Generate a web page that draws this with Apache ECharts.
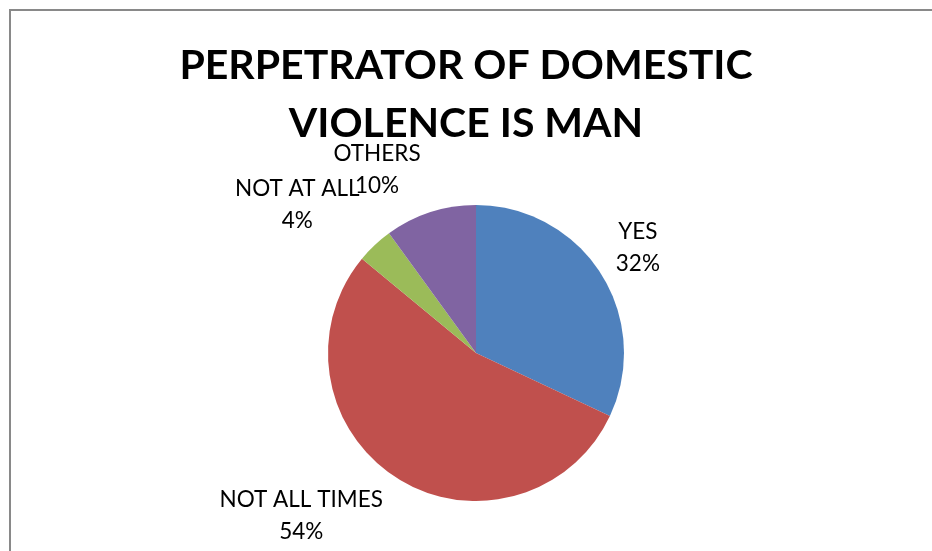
<!DOCTYPE html>
<html><head><meta charset="utf-8">
<script src="https://cdn.jsdelivr.net/npm/echarts@6/dist/echarts.min.js"></script>
<style>html,body{margin:0;padding:0;background:#fff}#c{width:932px;height:551px}</style>
</head><body><div id="c"></div>
<script>
const categories = ['YES', 'NOT ALL TIMES', 'NOT AT ALL', 'OTHERS'];
const values = [32, 54, 4, 10];
const colors = ['#4F81BD', '#C0504D', '#9BBB59', '#8064A2'];
const titleText = 'PERPETRATOR OF DOMESTIC\nVIOLENCE IS MAN';

const cx = 476, cy = 353, R = 148;
// label placement: angle (deg clockwise from top) and distance from centre
const labelPolar = [[57, 193], [227, 239], [309.6, 232], [331.6, 208]];

const chart = echarts.init(document.getElementById('c'), null, {renderer: 'canvas'});
chart.setOption({
  animation: false,
  backgroundColor: '#fff',
  title: {
    text: titleText,
    left: 'center',
    top: 32,
    textStyle: {fontFamily: 'Lato', fontWeight: 'bold', fontSize: 41, lineHeight: 58, color: '#000'}
  },
  graphic: [{
    type: 'rect', silent: true,
    shape: {x: 10, y: 10, width: 1000, height: 1000},
    style: {fill: 'none', stroke: '#898989', lineWidth: 2}
  }],
  series: [{
    type: 'pie',
    center: [cx, cy],
    radius: [0, R],
    startAngle: 90,
    clockwise: true,
    data: categories.map((n, i) => ({name: n, value: values[i], itemStyle: {color: colors[i]}})),
    label: {
      show: true, position: 'outside',
      formatter: '{b}\n{d}%',
      fontFamily: 'Lato', fontSize: 22.5, lineHeight: 32, color: '#000', align: 'center'
    },
    labelLine: {show: false},
    labelLayout: function (p) {
      const lp = labelPolar[p.dataIndex];
      const a = lp[0] * Math.PI / 180;
      return {x: cx + lp[1] * Math.sin(a), y: cy - lp[1] * Math.cos(a), align: 'center', verticalAlign: 'middle'};
    },
    emphasis: {disabled: true}
  }]
});
</script></body></html>
